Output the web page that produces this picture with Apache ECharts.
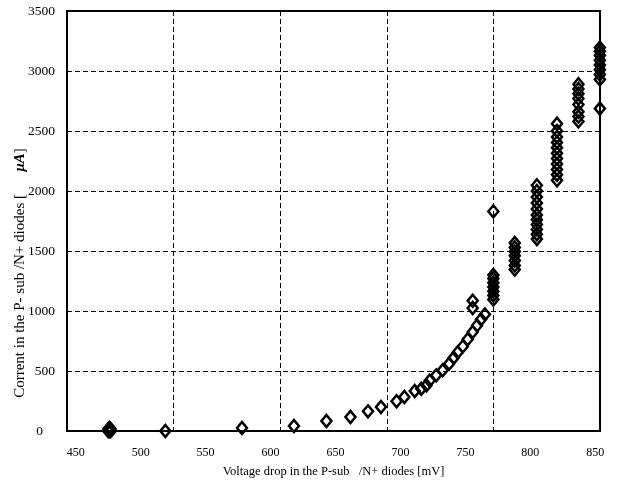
<!DOCTYPE html>
<html>
<head>
<meta charset="utf-8">
<script src="https://cdn.jsdelivr.net/npm/echarts@6/dist/echarts.min.js"></script>
<style>
  html, body { margin: 0; padding: 0; background: #fff; }
  #chart { width: 627px; height: 486px; }
</style>
</head>
<body>
<div id="chart"></div>
<script>
// Forward characteristic of the P-sub/N+ diodes: voltage drop [mV] vs current [µA]
const voltage = [
  475, 477, 476, 476, 475.5, 476.5, 476, 475.3, 476.7,
  519, 578, 618, 643, 661.5, 675, 685, 697, 703, 711, 716, 720, 722.5, 727.5,
  732.5, 737.5, 741, 744, 748, 751.8, 755.6, 759, 762, 765,
  755.6, 755.6,
  771.5, 771.5, 771.5, 771.5, 771.5, 771.5, 771.5, 771.5,
  788, 788, 788, 788, 788, 788, 788,
  805, 805, 805, 805, 805, 805, 805, 805, 805, 805, 805,
  820.5, 820.5, 820.5, 820.5, 820.5, 820.5, 820.5, 820.5, 820.5, 820.5, 820.5,
  837, 837, 837, 837, 837, 837, 837, 837,
  853.5, 853.5, 853.5, 853.5, 853.5, 853.5, 853.5, 853.5, 853.5
];
const current = [
  0, 0, 15, 0, 8, 8, 25, 18, 18,
  0, 25, 42, 83, 117, 164, 200, 248, 283, 333, 352, 380, 420, 464,
  506, 561, 610, 655, 705, 765, 825, 880, 930, 972,
  1025, 1085,
  1095, 1130, 1165, 1200, 1235, 1270, 1300, 1830,
  1345, 1380, 1420, 1460, 1495, 1530, 1567,
  1600, 1640, 1680, 1720, 1760, 1800, 1850, 1900, 1950, 2000, 2047,
  2090, 2135, 2180, 2225, 2270, 2315, 2360, 2405, 2450, 2500, 2560,
  2580, 2620, 2660, 2720, 2770, 2810, 2850, 2890,
  2687, 2930, 2970, 3010, 3050, 3090, 3130, 3165, 3195
];
const xTickLabels = [450, 500, 550, 600, 650, 700, 750, 800, 850];
const xRange = [443.3, 853.6];
const yRange = [0, 3500];
const yStep = 500;

const points = voltage.map((v, i) => [v, current[i]]);

const serif = 'Liberation Serif';
const dashed = { color: '#000', width: 1, type: [5, 3] };

const chart = echarts.init(document.getElementById('chart'), null, { renderer: 'canvas' });
chart.setOption({
  backgroundColor: '#fff',
  animation: false,
  textStyle: { fontFamily: serif, color: '#000' },
  grid: {
    left: 67, top: 11, width: 533, height: 420,
    show: true, borderColor: '#000', borderWidth: 2, backgroundColor: 'transparent'
  },
  xAxis: {
    type: 'value',
    min: xRange[0],
    max: xRange[1],
    interval: (xRange[1] - xRange[0]) / 5,
    axisLine: { show: false },
    axisTick: { show: false },
    splitLine: { show: true, lineStyle: dashed },
    axisLabel: {
      customValues: xTickLabels,
      margin: 16,
      fontFamily: serif, fontSize: 12, color: '#000'
    },
    name: 'Voltage drop in the P-sub   /N+ diodes [mV]',
    nameLocation: 'middle',
    nameGap: 34,
    nameTextStyle: { fontFamily: serif, fontSize: 12.5, color: '#000' }
  },
  yAxis: {
    type: 'value',
    min: yRange[0],
    max: yRange[1],
    interval: yStep,
    axisLine: { show: false },
    axisTick: { show: false },
    splitLine: { show: true, lineStyle: dashed },
    axisLabel: {
      margin: 12, fontFamily: serif, fontSize: 13.5, color: '#000',
      formatter: v => (v === 0 ? '{z|0}' : String(v)),
      rich: { z: { fontFamily: serif, fontSize: 13.5, color: '#000', padding: [0, 12, 0, 0] } }
    }
  },
  graphic: [{
    type: 'text',
    x: 20, y: 273,
    rotation: Math.PI / 2,
    style: {
      text: 'Corrent in the P- sub /N+ diodes [      {mu|μA}]',
      fontFamily: serif, fontSize: 15, fill: '#000',
      align: 'center', verticalAlign: 'middle',
      rich: { mu: { fontFamily: serif, fontSize: 15, fontWeight: 'bold', fontStyle: 'italic', fill: '#000' } }
    }
  }],
  series: [{
    type: 'scatter',
    data: points,
    clip: false,
    symbol: 'diamond',
    symbolSize: [10, 12],
    itemStyle: { color: 'rgba(0,0,0,0)', borderColor: '#000', borderWidth: 2.5, opacity: 1 },
    emphasis: { disabled: true }
  }]
});
</script>
</body>
</html>
